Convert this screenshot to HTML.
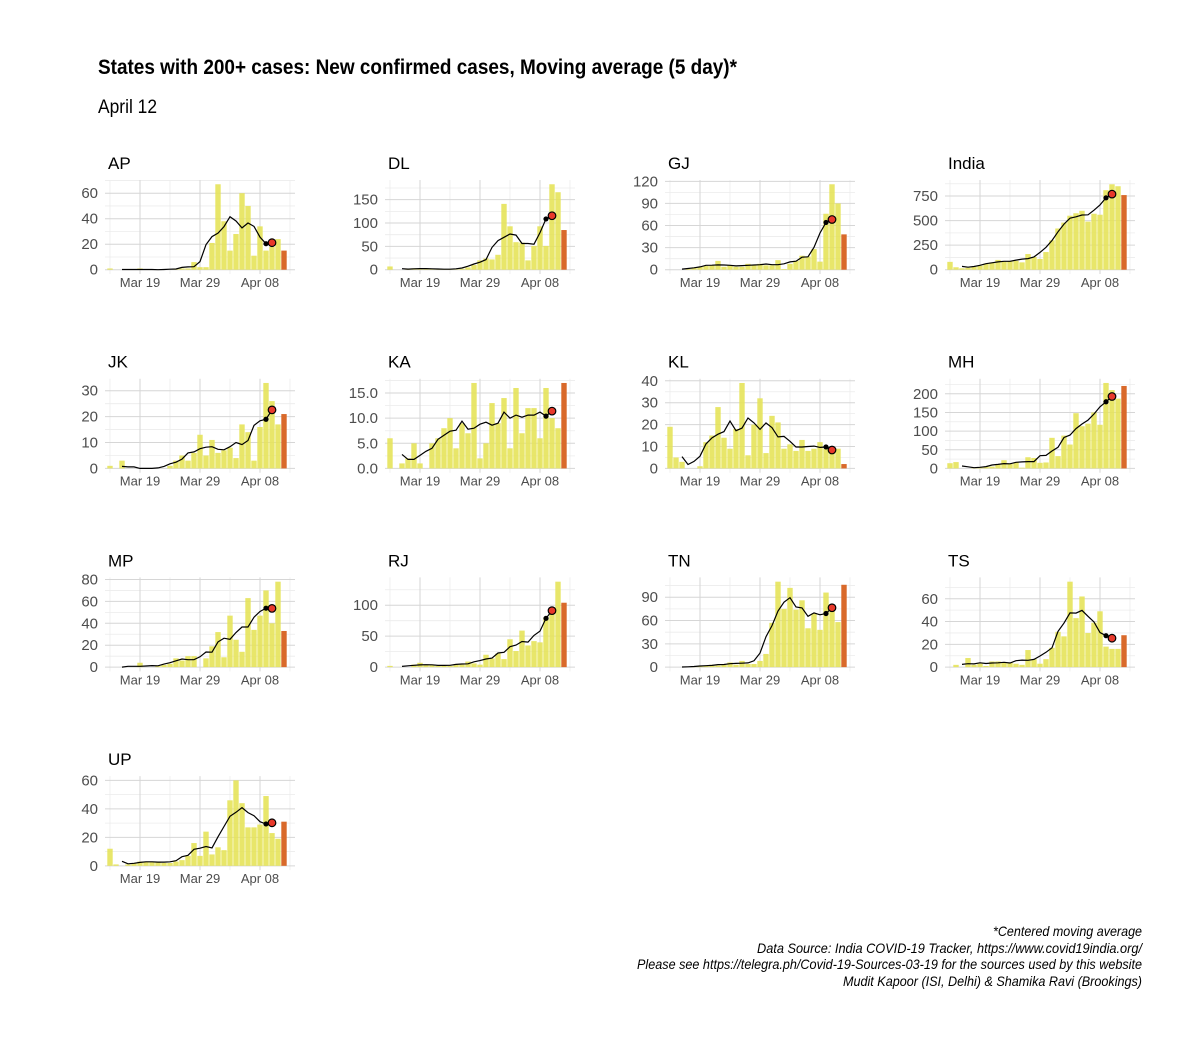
<!DOCTYPE html>
<html><head><meta charset="utf-8"><style>
html,body{margin:0;padding:0;background:#fff;}
svg{display:block;font-family:"Liberation Sans Narrow","Liberation Sans",sans-serif;}
</style></head><body>
<svg id="chart" width="1200" height="1047" viewBox="0 0 1200 1047" xmlns="http://www.w3.org/2000/svg">
<rect width="1200" height="1047" fill="#fff"/>
<text x="98" y="74" font-size="21" font-weight="bold" fill="#000" textLength="639" lengthAdjust="spacingAndGlyphs">States with 200+ cases: New confirmed cases, Moving average (5 day)*</text>
<text x="98" y="113" font-size="19" fill="#000" textLength="59" lengthAdjust="spacingAndGlyphs">April 12</text>
<g font-size="14" font-style="italic" fill="#000" text-anchor="end">
<text x="1142" y="936" textLength="149" lengthAdjust="spacingAndGlyphs">*Centered moving average</text>
<text x="1142" y="953" textLength="385" lengthAdjust="spacingAndGlyphs">Data Source: India COVID-19 Tracker, https://www.covid19india.org/</text>
<text x="1142" y="969" textLength="505" lengthAdjust="spacingAndGlyphs">Please see https://telegra.ph/Covid-19-Sources-03-19 for the sources used by this website</text>
<text x="1142" y="986" textLength="299" lengthAdjust="spacingAndGlyphs">Mudit Kapoor (ISI, Delhi) &amp; Shamika Ravi (Brookings)</text>
</g>
<g id="panels"></g>
</svg>
<script>
const states = ["AP","DL","GJ","India","JK","KA","KL","MH","MP","RJ","TN","TS","UP"];
const dateLabels = ["Mar 19","Mar 29","Apr 08"];
const dateLabelIdx = [5,15,25];
const AP = [1,0,0,0,0,1,0,0,0,0,0,1,1,1,6,2,2,21,67,38,15,28,60,50,11,34,15,18,24,15];
const DL = [7,0,0,1,3,3,3,2,1,1,1,1,2,5,10,20,24,22,32,141,93,59,58,20,51,93,51,183,166,85];
const GJ = [0,0,0,1,3,4,5,6,12,4,6,4,4,8,6,8,6,6,13,1,8,12,19,18,28,11,76,116,90,48];
const India = [80,25,15,20,30,40,60,75,100,80,85,90,75,160,130,110,180,300,420,480,550,575,600,490,570,560,810,870,850,760];
const JK = [1,0,3,0,0,0,0,0,0,0,1,3,5,3,6,13,5,11,6,7,8,4,17,14,3,16,33,26,17,21];
const KA = [6,0,1,2,5,1,0,5,6,8,10,4,9,7,17,2,5,13,9,14,4,16,7,12,12,6,16,10,8,17];
const KL = [19,5,3,0,0,1,12,15,28,14,9,18,39,6,20,32,7,24,21,9,11,8,13,8,9,12,9,10,9,2];
const MH = [14,17,0,0,1,4,5,5,10,22,12,16,2,30,28,15,16,82,33,88,64,148,113,120,150,117,229,210,187,221];
const MP = [0,0,0,0,0,4,0,0,1,2,3,8,6,10,10,0,8,19,32,9,47,25,14,63,34,47,70,40,78,33];
const RJ = [2,0,0,0,4,7,4,3,2,3,2,4,4,9,6,4,20,14,22,13,45,26,59,35,42,40,80,94,138,104];
const TN = [0,0,0,0,1,1,2,3,2,3,6,3,8,4,4,8,17,57,110,75,102,74,86,50,69,48,96,74,58,106];
const TS = [0,2,0,8,2,3,1,5,5,4,4,3,2,15,7,3,7,17,31,27,75,43,62,30,39,49,18,16,16,28];
const UP = [12,1,0,1,2,3,3,3,3,2,2,3,4,7,16,7,24,8,13,11,46,60,44,27,27,29,49,23,19,31];
const seriesList = [AP,DL,GJ,India,JK,KA,KL,MH,MP,RJ,TN,TS,UP];
const tickSets = [[0,20,40,60],[0,50,100,150],[0,30,60,90,120],[0,250,500,750],[0,10,20,30],[0,5,10,15],[0,10,20,30,40],[0,50,100,150,200],[0,20,40,60,80],[0,50,100],[0,30,60,90],[0,20,40,60],[0,20,40,60]];
const tickDecimals = [0,0,0,0,0,1,0,0,0,0,0,0,0];

const NS="http://www.w3.org/2000/svg";
const root=document.getElementById('panels');
function mk(tag,attrs,parent){const e=document.createElementNS(NS,tag);for(const k in attrs)e.setAttribute(k,attrs[k]);parent.appendChild(e);return e;}

states.forEach((st,p)=>{
  const data=seriesList[p];
  const col=p%4,row=Math.floor(p/4);
  const L=105+280*col, T=180+198.7*row, W=190, H=94;
  const xOf=i=>L+5+6*i;
  const ma=[];
  for(let i=2;i<data.length-2;i++){let s=0;for(let k=-2;k<=2;k++)s+=data[i+k];ma.push([i,s/5]);}
  let mx=Math.max(...data, ...ma.map(d=>d[1]));
  const ext=mx*0.05;
  const yOf=v=>T+H-((v+ext)/(mx+2*ext))*H;
  const g=mk('g',{},root);
  
  
  const title=mk('text',{x:L+3,y:T-11,'font-size':17,fill:'#000'},g);
  title.textContent=st;
  
  
  const ticks=tickSets[p];
  // minor horizontal gridlines
  for(let t=0;t<ticks.length;t++){
    const step=ticks[1]-ticks[0];
    const mv=ticks[t]+step/2;
    if(yOf(mv)>=T){const ml=mk('line',{x1:L,x2:L+W,y1:yOf(mv),y2:yOf(mv),stroke:'#ececec','stroke-width':0.8},g);
      }
  }
  [0,10,20,30].forEach(i=>{const ml=mk('line',{x1:xOf(i),x2:xOf(i),y1:T,y2:T+H,stroke:'#ececec','stroke-width':0.8},g);
    });
  ticks.forEach(t=>{
    const gl=mk('line',{x1:L,x2:L+W,y1:yOf(t),y2:yOf(t),stroke:'#d6d6d6','stroke-width':1},g);
    
    const tl=mk('text',{x:L-7,y:yOf(t)+5,'font-size':15,fill:'#4d4d4d','text-anchor':'end'},g);
    tl.textContent=t.toFixed(tickDecimals[p]);
    
  });
  dateLabelIdx.forEach((di,k)=>{
    const gl=mk('line',{x1:xOf(di),x2:xOf(di),y1:T,y2:T+H,stroke:'#d6d6d6','stroke-width':1},g);
    
    const tl=mk('text',{x:xOf(di),y:T+H+13,'font-size':13,fill:'#4d4d4d','text-anchor':'middle'},g);
    tl.textContent=dateLabels[k];
    
  });
  data.forEach((v,i)=>{
    if(v<=0)return;
    const last=i===data.length-1;
    const b=mk('rect',{x:xOf(i)-2.7,y:yOf(v),width:5.4,height:Math.max(0,yOf(0)-yOf(v)),fill:last?'#d9692a':'#e6e35a','fill-opacity':last?1:0.9},g);
    
    
  });
  const pts=ma.map(d=>xOf(d[0]).toFixed(1)+','+yOf(d[1]).toFixed(1)).join(' ');
  const ln=mk('polyline',{points:pts,fill:'none',stroke:'#000','stroke-width':1.2},g);
  
  
  const pb=ma[ma.length-2], pr=ma[ma.length-1];
  const d1=mk('circle',{cx:xOf(pb[0]),cy:yOf(pb[1]),r:2.6,fill:'#000'},g);
  
  
  const d2=mk('circle',{cx:xOf(pr[0]),cy:yOf(pr[1]),r:3.8,fill:'#e8392b',stroke:'#000','stroke-width':1.2},g);
  
  
});
</script>
</body></html>
